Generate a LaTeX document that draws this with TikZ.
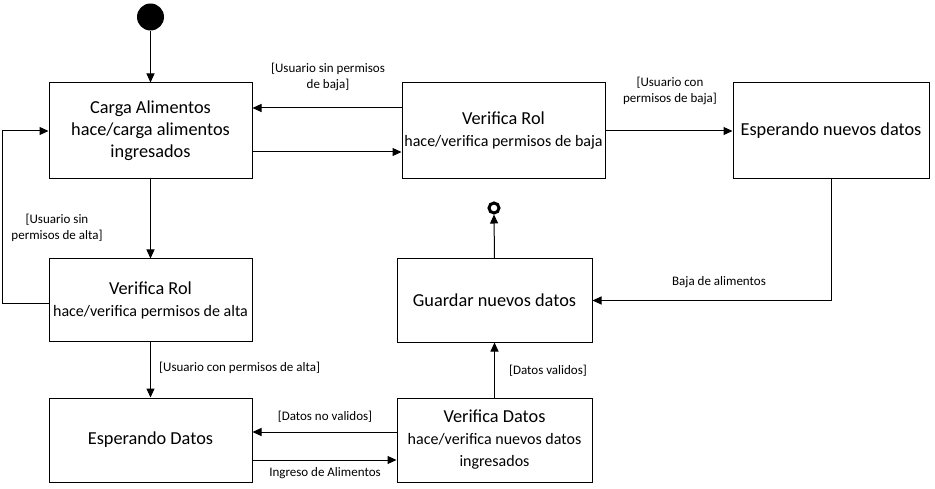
\documentclass[tikz,border=0pt]{standalone}
\usepackage{fontspec}
\setmainfont{Carlito}
\usetikzlibrary{arrows.meta}
\begin{document}
\begin{tikzpicture}[x=1pt,y=-1pt,
  box/.style={draw=black,line width=1pt,rectangle,align=center,inner sep=0pt,
    font=\fontsize{18.3}{22}\selectfont},
  arr/.style={draw=black,line width=1pt,-{Triangle[length=9pt,width=8pt]}},
  lbl/.style={font=\fontsize{13}{16}\selectfont,align=center,inner sep=0pt}]
\useasboundingbox (0,0) rectangle (935,489);
\node[circle,fill=black,minimum size=27pt,inner sep=0pt] (init) at (150.5,17) {};
\node[circle,draw=black,fill=white,line width=3pt,minimum size=10pt,inner sep=0pt] (fin) at (494,208) {};

\node[box,minimum width=203pt,minimum height=96pt] (carga) at (150.5,131)
  {Carga Alimentos\\hace/carga alimentos\\ingresados};
\node[box,minimum width=203pt,minimum height=96pt] (vrb) at (503.5,131)
  {Verifica Rol\\{\fontsize{16}{22}\selectfont hace/verifica permisos de baja}};
\node[box,minimum width=196pt,minimum height=96pt] (espn) at (831,131)
  {Esperando nuevos datos};
\node[box,minimum width=203pt,minimum height=82pt] (vra) at (150.5,300)
  {Verifica Rol\\{\fontsize{16}{22}\selectfont hace/verifica permisos de alta}};
\node[box,minimum width=195pt,minimum height=83pt] (guard) at (494.5,300.5)
  {Guardar nuevos datos};
\node[box,minimum width=203pt,minimum height=84pt] (espd) at (150.5,440)
  {Esperando Datos};
\node[box,minimum width=195pt,minimum height=84pt] (vd) at (494.5,440)
  {Verifica Datos\\{\fontsize{16}{20}\selectfont hace/verifica nuevos datos}\\{\fontsize{16}{20}\selectfont ingresados}};

\draw[arr] (init) -- (carga.north);
\draw[arr] ([yshift=23pt]vrb.west) -- ([yshift=23pt]carga.east);
\draw[arr] ([yshift=-21pt]carga.east) -- ([yshift=-21pt]vrb.west);
\draw[arr] (vrb.east) -- (espn.west);
\draw[arr] (carga.south) -- (vra.north);
\draw[arr] ([yshift=-4pt]vra.west) -- ++(-46,0) |- (carga.west);
\draw[arr] (vra.south) -- (espd.north);
\draw[arr] ([yshift=8pt]vd.west) -- ([yshift=8pt]espd.east);
\draw[arr] ([yshift=-20pt]espd.east) -- ([yshift=-20pt]vd.west);
\draw[arr] (vd.north) -- (guard.south);
\draw[arr] (guard.north) -- (fin.south);
\draw[arr] (espn.south) |- (guard.east);

\node[lbl] (l1) at (328,77) {[Usuario sin permisos\\de baja]};
\node[lbl] (l2) at (670,91) {[Usuario con\\permisos de baja]};
\node[lbl] (l3) at (57,228) {[Usuario sin\\permisos de alta]};
\node[lbl,anchor=west] (l4) at (159,368) {[Usuario con permisos de alta]};
\node[lbl] (l5) at (325,417) {[Datos no validos]};
\node[lbl] (l6) at (325,473) {Ingreso de Alimentos};
\node[lbl] (l7) at (548,371) {[Datos validos]};
\node[lbl] (l8) at (719,282) {Baja de alimentos};
\end{tikzpicture}
\end{document}
